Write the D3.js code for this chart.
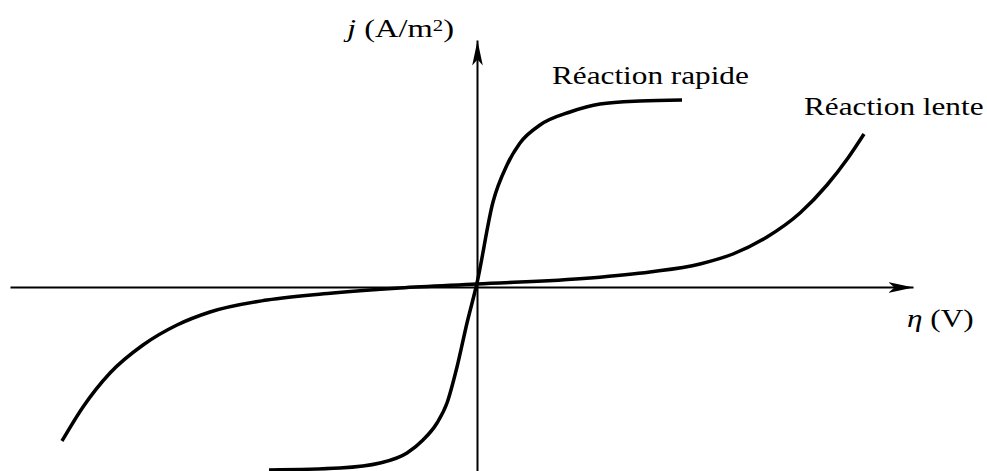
<!DOCTYPE html>
<html>
<head>
<meta charset="utf-8">
<script src="https://cdn.jsdelivr.net/npm/d3@7"></script>
<style>
  body { margin: 0; background: #fff; }
  svg { display: block; }
  text { font-family: "Liberation Serif", "Times New Roman", serif; fill: #000; }
</style>
</head>
<body>
<svg id="chart" width="987" height="471"></svg>
<script>
// values (arbitrary units, 1 unit = 100 px)
const etaRange = [-4.67, 4.36] // horizontal axis extent
const jRange = [-1.84, 2.47] // vertical axis extent

const rapideEta = [-2.08, -1.37, -0.97, -0.70, -0.54, -0.40, -0.30, -0.20, -0.10, 0, 0.16, 0.30, 0.43, 0.63, 0.93, 1.23, 1.63, 2.05]
const rapideJ = [-1.83, -1.81, -1.76, -1.66, -1.53, -1.36, -1.16, -0.80, -0.36, 0.04, 0.85, 1.22, 1.44, 1.62, 1.75, 1.83, 1.86, 1.87]

const lenteEta = [-4.15, -3.94, -3.67, -3.34, -3.00, -2.67, -2.10, -1.44, -0.77, 0, 1.13, 1.73, 2.23, 2.56, 2.90, 3.23, 3.50, 3.71, 3.87]
const lenteJ = [-1.54, -1.20, -0.86, -0.58, -0.38, -0.25, -0.13, -0.06, -0.01, 0.03, 0.09, 0.15, 0.23, 0.33, 0.50, 0.74, 1.02, 1.29, 1.53]

const labels = ['Réaction rapide', 'Réaction lente']

const svg = d3.select('#chart')
const x0 = 477 // where the axes cross
const y0 = 287

const x = d3.scaleLinear().domain([0, 1]).range([x0, x0 + 100])
const y = d3.scaleLinear().domain([0, 1]).range([y0, y0 - 100])

// barbed arrow head
const defs = svg.append('defs')
defs.append('marker')
  .attr('id', 'arrow')
  .attr('markerUnits', 'userSpaceOnUse')
  .attr('viewBox', '0 -6 26 12')
  .attr('refX', 25)
  .attr('refY', 0)
  .attr('markerWidth', 26)
  .attr('markerHeight', 12)
  .attr('orient', 'auto')
  .append('path')
  .attr('d', 'M0,-5.3L25,0L0,5.3L6,0Z')
  .attr('fill', '#000')

const xAxis = d3.axisBottom(x.copy().domain(etaRange).range(etaRange.map(x)))
  .tickValues([]).tickSizeOuter(0)
const yAxis = d3.axisLeft(y.copy().domain(jRange).range(jRange.map(y)))
  .tickValues([]).tickSizeOuter(0)

svg.append('g')
  .attr('transform', `translate(0,${y0})`)
  .call(xAxis)
  .select('.domain')
  .attr('stroke', '#000')
  .attr('stroke-width', 2)
  .attr('marker-end', 'url(#arrow)')

svg.append('g')
  .attr('transform', `translate(${x0},0)`)
  .call(yAxis)
  .select('.domain')
  .attr('stroke', '#000')
  .attr('stroke-width', 2)
  .attr('marker-end', 'url(#arrow)')

const line = d3.line()
  .x(d => x(d[0]))
  .y(d => y(d[1]))
  .curve(d3.curveMonotoneX)

const series = [
  d3.zip(rapideEta, rapideJ),
  d3.zip(lenteEta, lenteJ)
]

svg.selectAll('.curve')
  .data(series)
  .enter()
  .append('path')
  .attr('class', 'curve')
  .attr('d', line)
  .attr('fill', 'none')
  .attr('stroke', '#000')
  .attr('stroke-width', 3.5)

// the source picture is stretched sideways, so the text is too
const label = (tx, ty, sx = 1.25) => svg.append('text')
  .attr('transform', `translate(${tx},${ty}) scale(${sx},1)`)
  .attr('font-size', 25)

label(552, 84).text(labels[0])
label(804, 115).text(labels[1])

const jLabel = label(347, 37, 1.3)
jLabel.append('tspan').attr('font-style', 'italic').text('j')
jLabel.append('tspan').text(' (A/m')
jLabel.append('tspan').attr('font-size', 16).attr('dy', -6).text('2')
jLabel.append('tspan').attr('dy', 6).text(')')

const etaLabel = label(907, 327)
etaLabel.append('tspan').attr('font-style', 'italic').text('η')
etaLabel.append('tspan').text(' (V)')
</script>
</body>
</html>
